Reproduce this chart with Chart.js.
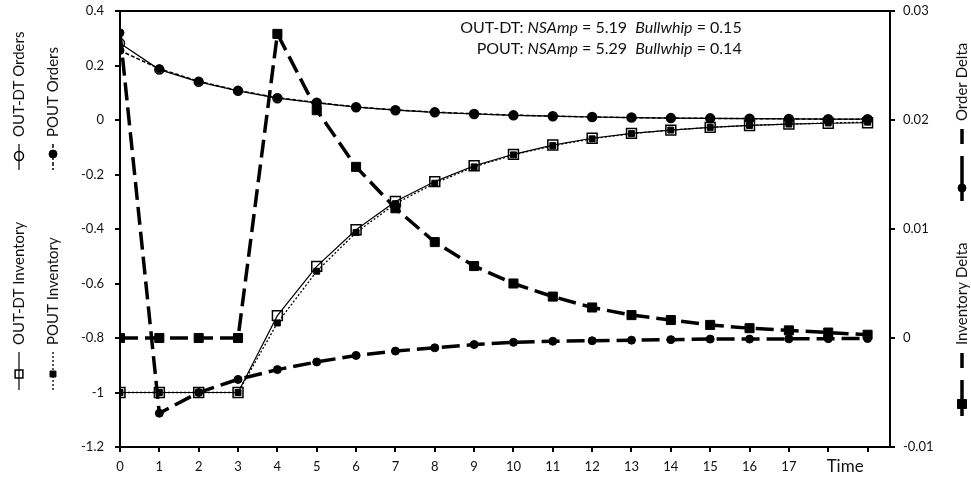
<!DOCTYPE html>
<html><head><meta charset="utf-8">
<script src="https://cdn.jsdelivr.net/npm/chart.js@4/dist/chart.umd.min.js"></script>
<style>html,body{margin:0;padding:0;background:#fff;}#wrap{width:971px;height:478px;}</style>
</head><body><div id="wrap"><canvas id="c" width="971" height="478"></canvas></div>
<script>
// ---------- data ----------
const timeSteps = [0,1,2,3,4,5,6,7,8,9,10,11,12,13,14,15,16,17,18,19];
const xTickLabels = ['0','1','2','3','4','5','6','7','8','9','10','11','12','13','14','15','16','17','',''];
const xAxisTitle = 'Time';
const leftTicks = [0.4,0.2,0,-0.2,-0.4,-0.6,-0.8,-1,-1.2];
const rightTicks = [0.03,0.02,0.01,0,-0.01];

const outdtOrders = [0.282,0.185,0.140,0.107,0.080,0.063,0.047,0.036,0.028,0.022,0.017,0.014,0.011,0.009,0.007,0.006,0.005,0.004,0.003,0.003];
const poutOrders  = [0.255,0.188,0.142,0.108,0.082,0.064,0.048,0.037,0.029,0.023,0.018,0.014,0.011,0.009,0.007,0.006,0.005,0.004,0.003,0.003];
const outdtInventory = [-1,-1,-1,-1,-0.718,-0.537,-0.403,-0.299,-0.226,-0.168,-0.126,-0.092,-0.067,-0.049,-0.037,-0.027,-0.020,-0.015,-0.012,-0.010];
const poutInventory  = [-1,-1,-1,-1,-0.745,-0.555,-0.413,-0.307,-0.232,-0.172,-0.128,-0.094,-0.069,-0.050,-0.037,-0.027,-0.020,-0.015,-0.011,-0.008];
const orderDelta = [0.0280,-0.0069,-0.0050,-0.0038,-0.0029,-0.0022,-0.0016,-0.0012,-0.0009,-0.0006,-0.0004,-0.0003,-0.00025,-0.0002,-0.00015,-0.0001,-0.0001,-0.00008,-0.00006,-0.00005];
const inventoryDelta = [0,0,0,0,0.0279,0.0209,0.0157,0.0119,0.0088,0.0066,0.0050,0.0038,0.0028,0.0021,0.00165,0.0012,0.0009,0.0007,0.0005,0.0003];

const policyNames = ['OUT-DT','POUT'];
const nsAmp = [5.19, 5.29];
const bullwhip = [0.15, 0.14];

// ---------- helpers ----------
const pts = arr => arr.map((v,i) => ({x: timeSteps[i], y: v}));
const FONT = 'Lato';
const INK = '#111';

const sideLegend = {
  id: 'sideLegend',
  afterDraw(chart, args, opts) {
    const ctx = chart.ctx;
    opts.items.forEach(it => {
      const ds = chart.data.datasets[it.dataset];
      ctx.save();
      ctx.strokeStyle = ds.borderColor;
      ctx.lineWidth = ds.borderWidth;
      ctx.setLineDash(it.dash || ds.borderDash || []);
      ctx.beginPath(); ctx.moveTo(it.x, it.lineTop); ctx.lineTo(it.x, it.lineBottom); ctx.stroke();
      ctx.setLineDash([]);
      ctx.fillStyle = ds.pointBackgroundColor;
      ctx.strokeStyle = ds.pointBorderColor;
      ctx.lineWidth = ds.pointBorderWidth;
      Chart.helpers.drawPoint(ctx, {pointStyle: ds.pointStyle, radius: it.radius || ds.pointRadius, borderWidth: ds.pointBorderWidth, rotation: 0}, it.x, it.markerY);
      ctx.translate(it.x, it.textStart);
      ctx.rotate(-Math.PI/2);
      ctx.font = opts.font;
      ctx.fillStyle = INK;
      ctx.textAlign = 'left';
      ctx.textBaseline = 'middle';
      ctx.fillText(ds.label, 0, 0);
      ctx.restore();
    });
  }
};

const extras = {
  id: 'extras',
  afterDraw(chart, args, opts) {
    const ctx = chart.ctx, ca = chart.chartArea;
    const xs = chart.scales.x, ys = chart.scales.y;
    ctx.save();
    // top frame line
    ctx.strokeStyle = '#000'; ctx.lineWidth = 2;
    ctx.beginPath(); ctx.moveTo(ca.left, ca.top); ctx.lineTo(ca.right, ca.top); ctx.stroke();
    // axis title "Time"
    ctx.font = opts.titleFont; ctx.fillStyle = INK; ctx.textAlign = 'center'; ctx.textBaseline = 'middle';
    ctx.fillText(xAxisTitle, xs.getPixelForValue(opts.titleAt), opts.titleY);
    // annotation lines (right aligned)
    const xr = xs.getPixelForValue(opts.noteX);
    policyNames.forEach((name, k) => {
      const segs = [
        [name + ': ', false], ['NSAmp', true], [' = ' + nsAmp[k].toFixed(2) + '  ', false],
        ['Bullwhip', true], [' = ' + bullwhip[k].toFixed(2), false]
      ];
      let total = 0;
      segs.forEach(s => { ctx.font = (s[1] ? 'italic ' : '') + opts.noteFont; total += ctx.measureText(s[0]).width; });
      let x = xr - total;
      const y = ys.getPixelForValue(opts.noteY[k]);
      ctx.textAlign = 'left';
      segs.forEach(s => { ctx.font = (s[1] ? 'italic ' : '') + opts.noteFont; ctx.fillText(s[0], x, y); x += ctx.measureText(s[0]).width; });
    });
    ctx.restore();
  }
};

const tickGrid = {display: true, drawOnChartArea: false, drawTicks: true, tickLength: 5, color: '#000', lineWidth: 2};
const axisBorder = {display: true, color: '#000', width: 2};
const fitVertical = w => s => { s.width = w; s.paddingTop = 0; s.paddingBottom = 0; };

new Chart(document.getElementById('c'), {
  type: 'line',
  data: {
    datasets: [
      {label: 'OUT-DT Orders', data: pts(outdtOrders), yAxisID: 'y', order: 4,
       borderColor: '#000', borderWidth: 1.2, borderDash: [],
       pointStyle: 'circle', pointRadius: 4.5, pointBorderWidth: 1.5, pointBorderColor: '#000', pointBackgroundColor: 'rgba(255,255,255,0)'},
      {label: 'POUT Orders', data: pts(poutOrders), yAxisID: 'y', order: 3,
       borderColor: '#000', borderWidth: 1.5, borderDash: [4,2],
       pointStyle: 'circle', pointRadius: 4, pointBorderWidth: 1, pointBorderColor: '#000', pointBackgroundColor: '#000'},
      {label: 'OUT-DT Inventory', data: pts(outdtInventory), yAxisID: 'y', order: 6,
       borderColor: '#000', borderWidth: 1.2, borderDash: [],
       pointStyle: 'rect', pointRadius: 7, pointBorderWidth: 1.5, pointBorderColor: '#000', pointBackgroundColor: 'rgba(255,255,255,0)'},
      {label: 'POUT Inventory', data: pts(poutInventory), yAxisID: 'y', order: 5,
       borderColor: '#000', borderWidth: 1.3, borderDash: [2,2],
       pointStyle: 'rect', pointRadius: 4.2, pointBorderWidth: 1, pointBorderColor: '#000', pointBackgroundColor: '#000'},
      {label: 'Order Delta', data: pts(orderDelta), yAxisID: 'y2', order: 2,
       borderColor: '#000', borderWidth: 3.5, borderDash: [18,7],
       pointStyle: 'circle', pointRadius: 4, pointBorderWidth: 1, pointBorderColor: '#000', pointBackgroundColor: '#000'},
      {label: 'Inventory Delta', data: pts(inventoryDelta), yAxisID: 'y2', order: 1,
       borderColor: '#000', borderWidth: 3.5, borderDash: [18,7],
       pointStyle: 'rect', pointRadius: 6.4, pointBorderWidth: 1, pointBorderColor: '#000', pointBackgroundColor: '#000'}
    ]
  },
  options: {
    responsive: false, devicePixelRatio: 1, animation: false,
    layout: {padding: {top: 11, left: 0, right: 0, bottom: 0}},
    elements: {line: {tension: 0, fill: false}},
    plugins: {
      legend: {display: false}, tooltip: {enabled: false},
      sideLegend: {
        font: '15px ' + FONT,
        items: [
          {dataset: 0, x: 19, textStart: 137, lineTop: 144, lineBottom: 170, markerY: 156},
          {dataset: 1, x: 53, textStart: 137, lineTop: 144, lineBottom: 170, markerY: 154},
          {dataset: 2, x: 19, textStart: 345, lineTop: 352, lineBottom: 390, markerY: 374, radius: 5.5},
          {dataset: 3, x: 53, textStart: 345, lineTop: 352, lineBottom: 390, markerY: 374},
          {dataset: 4, x: 962, textStart: 121, lineTop: 129, lineBottom: 201, markerY: 188, dash: [15,12,60]},
          {dataset: 5, x: 962, textStart: 345, lineTop: 353, lineBottom: 416, markerY: 404, dash: [15,12,60]}
        ]
      },
      extras: {titleFont: '17px ' + FONT, titleAt: 18.43, titleY: 467,
               noteFont: '16px ' + FONT, noteX: 15.8, noteY: [0.338, 0.262]}
    },
    scales: {
      x: {type: 'linear', min: 0, max: 19.57, position: 'bottom',
          afterBuildTicks: s => { s.ticks = timeSteps.map(v => ({value: v})); },
          afterFit: s => { s.height = 31; },
          ticks: {autoSkip: false, maxRotation: 0, padding: 7, color: INK, font: {family: FONT, size: 13},
                  callback: (v, i) => xTickLabels[i]},
          grid: tickGrid, border: axisBorder},
      y: {type: 'linear', position: 'left', min: -1.2, max: 0.4,
          afterBuildTicks: s => { s.ticks = leftTicks.map(v => ({value: v})); },
          afterFit: fitVertical(120),
          ticks: {padding: 11, color: INK, font: {family: FONT, size: 13}, callback: v => String(Number(v.toFixed(2)))},
          grid: tickGrid, border: axisBorder},
      y2: {type: 'linear', position: 'right', min: -0.01, max: 0.03,
          afterBuildTicks: s => { s.ticks = rightTicks.map(v => ({value: v})); },
          afterFit: fitVertical(81),
          ticks: {padding: 8, color: INK, font: {family: FONT, size: 13}, callback: v => String(Number(v.toFixed(3)))},
          grid: tickGrid, border: axisBorder}
    }
  },
  plugins: [sideLegend, extras]
});
</script></body></html>
